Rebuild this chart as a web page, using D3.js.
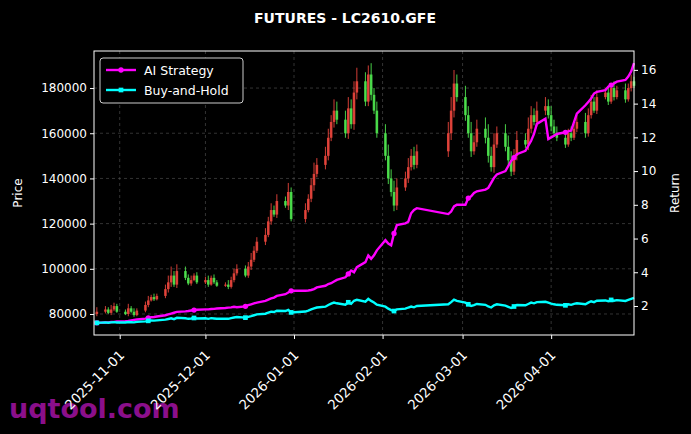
<!DOCTYPE html>
<html lang="en">
<head>
  <meta charset="UTF-8" />
  <title>FUTURES - LC2610.GFE</title>
  <script src="https://d3js.org/d3.v7.min.js"></script>
  <style>
    body { margin: 0; background: #000; font-family: "DejaVu Sans", sans-serif; }
    svg { display: block; }
  </style>
</head>
<body>
  <svg id="chart" width="691" height="434"></svg>
  <script>
    // trading calendar (weekdays, minus exchange holidays)
    const startDate = "2025-10-24";
    const endDate = "2026-04-30";
    const holidays = ["2026-01-01", "2026-01-02", "2026-02-16", "2026-02-17", "2026-02-18",
                      "2026-02-19", "2026-02-20", "2026-02-23"];
    const tickLabels = ["2025-11-01", "2025-12-01", "2026-01-01", "2026-02-01", "2026-03-01", "2026-04-01"];

    // closes, in thousands
    const closes = [
      81, 82, 80.5, 82, 83.5, 81,
      80, 82.5, 81, 79.5, 81.5, 84, 86, 87.5, 86.5, 88, 91, 94, 97, 93, 99, 96, 93.5, 95, 97, 94,
      95, 93, 96, 94, 92.5, 93, 92, 95, 98, 100, 97, 101, 104, 108, 112, 115, 121, 126, 124, 130, 128, 134, 122,
      126, 131, 137, 142, 146, 150, 158, 165, 170, 166, 160, 171, 164, 178, 183, 174, 186, 177, 170, 160,
      150, 140, 134, 128, 136, 140, 145, 150, 146, 152, 160, 170, 182, 176,
      168, 160, 152, 156, 162, 158, 150, 145, 155, 160, 154, 148, 143, 150, 157, 155, 162, 168, 165, 170, 172, 168,
      163, 160, 158, 155, 160, 158, 162, 165, 160, 168, 174, 170, 176, 178, 174, 180, 176, 179, 175, 180, 183, 181
    ];
    const firstOpen = 80;
    // wick length beyond the body, in thousands
    const wicks = [
      2, 1.5, 1, 2, 1.5, 1,
      1, 2, 1, 1.5, 1, 1.5, 2, 1, 1.5, 1, 2, 3, 4, 2, 3, 2, 1.5, 2, 1, 1.5,
      1.5, 2, 1, 1.5, 1, 1, 2, 1.5, 2, 2, 1.5, 2, 3, 2, 2, 3, 2, 3, 2, 3, 2, 4, 2,
      3, 2, 3, 5, 3, 4, 4, 3, 5, 4, 4, 5, 4, 5, 6, 4, 4, 5, 3, 4,
      4, 5, 4, 5, 4, 3, 4, 3, 4, 3, 5, 6, 6, 4,
      5, 4, 5, 3, 4, 5, 6, 4, 5, 3, 4, 5, 4, 3, 4, 3, 5, 4, 3, 4, 4, 3,
      4, 3, 3, 3, 2, 3, 2, 3, 4, 3, 3, 2, 3, 2, 3, 2, 3, 2, 3, 2, 3, 2
    ];
    const aiReturn = [
      1.0, 1.02, 1.03, 1.05, 1.06, 1.08,
      1.1, 1.12, 1.15, 1.18, 1.2, 1.25, 1.3, 1.33, 1.35, 1.38, 1.45, 1.5, 1.55, 1.6, 1.65, 1.68, 1.7, 1.73, 1.76, 1.78,
      1.8, 1.8, 1.82, 1.83, 1.85, 1.88, 1.9, 1.92, 1.95, 1.93, 1.98, 2.05, 2.1, 2.15, 2.2, 2.3, 2.38, 2.45, 2.5, 2.6, 2.7, 2.8, 2.9,
      2.9, 2.92, 2.95, 3.0, 3.1, 3.2, 3.3, 3.35, 3.45, 3.55, 3.7, 3.9, 4.1, 4.0, 4.3, 4.6, 5.0, 4.8, 5.0, 5.3,
      5.9, 5.7, 5.6, 6.3, 6.8, 6.9, 7.0, 7.5, 7.7, 7.8, 7.45, 7.6, 7.9, 8.0,
      8.0, 8.4, 8.5, 8.7, 8.8, 8.9, 9.0, 9.3, 9.6, 9.8, 10.0, 10.3, 10.6, 10.8, 11.0, 11.2, 11.5, 11.8, 12.2, 12.8, 13.1, 11.9,
      12.0, 12.1, 12.2, 12.3, 12.35, 12.4, 12.9, 13.4, 13.9, 14.1, 14.3, 14.6, 14.7, 14.8, 15.0, 15.1, 15.2, 15.3, 15.4, 15.6, 15.9, 16.4
    ];
    const bhReturn = [
      1.0, 1.03, 1.01, 1.03, 1.04, 1.02,
      1.02, 1.05, 1.04, 1.03, 1.06, 1.09, 1.12, 1.14, 1.13, 1.15, 1.19, 1.23, 1.27, 1.22, 1.30, 1.27, 1.24, 1.26, 1.29, 1.26,
      1.27, 1.24, 1.28, 1.26, 1.24, 1.25, 1.24, 1.28, 1.32, 1.35, 1.31, 1.36, 1.40, 1.45, 1.50, 1.54, 1.60, 1.66, 1.64, 1.72, 1.70, 1.77, 1.62,
      1.67, 1.73, 1.80, 1.86, 1.91, 1.96, 2.06, 2.14, 2.20, 2.16, 2.08, 2.22, 2.13, 2.31, 2.37, 2.26, 2.42, 2.30, 2.21, 2.08,
      1.96, 1.84, 1.76, 1.70, 1.80, 1.84, 1.91, 1.97, 1.92, 2.00, 2.10, 2.23, 2.38, 2.30,
      2.20, 2.10, 2.00, 2.05, 2.12, 2.07, 1.97, 1.91, 2.04, 2.10, 2.02, 1.95, 1.88, 1.97, 2.06, 2.04, 2.12, 2.20, 2.16, 2.23, 2.25, 2.20,
      2.14, 2.10, 2.07, 2.04, 2.10, 2.07, 2.13, 2.16, 2.10, 2.20, 2.28, 2.23, 2.31, 2.33, 2.28, 2.36, 2.31, 2.35, 2.30, 2.36, 2.42, 2.48
    ];

    const parse = d3.timeParse("%Y-%m-%d");
    const fmt = d3.timeFormat("%Y-%m-%d");
    const days = d3.timeDay.range(parse(startDate), d3.timeDay.offset(parse(endDate), 1))
      .filter(d => d.getDay() !== 0 && d.getDay() !== 6 && !holidays.includes(fmt(d)));

    const data = days.map((d, i) => {
      const c = closes[i] * 1000;
      const o = (i === 0 ? firstOpen : closes[i - 1]) * 1000;
      return {
        date: d, open: o, close: c,
        high: Math.max(o, c) + wicks[i] * 1000,
        low: Math.min(o, c) - wicks[i] * 500,
        ai: aiReturn[i], bh: bhReturn[i]
      };
    });

    const svg = d3.select("#chart");
    const m = { left: 94, right: 634, top: 51, bottom: 335 };

    const x = d3.scaleTime()
      .domain([parse("2025-10-23"), parse("2026-04-30")])
      .range([m.left, m.right]);
    const yP = d3.scaleLinear().domain([70700, 196400]).range([m.bottom, m.top]);
    const yR = d3.scaleLinear().domain([0.28, 17.12]).range([m.bottom, m.top]);

    const ticks = tickLabels.map(parse);

    // watermark (under the tick labels)
    svg.append("text").attr("x", 9).attr("y", 418).attr("fill", "#8b0f8b")
      .attr("font-size", 27).attr("font-weight", "bold").text("uqtool.com");

    // grid
    const grid = svg.append("g").attr("stroke", "#555").attr("stroke-dasharray", "3,3").attr("stroke-width", 0.6);
    ticks.forEach(t => grid.append("line").attr("x1", x(t)).attr("x2", x(t)).attr("y1", m.top).attr("y2", m.bottom));
    yP.ticks(6).forEach(v => grid.append("line").attr("x1", m.left).attr("x2", m.right).attr("y1", yP(v)).attr("y2", yP(v)));

    // candles
    const cw = 2.6;
    const candles = svg.append("g");
    data.forEach(d => {
      const col = d.close >= d.open ? "#e8453c" : "#4ee44e";
      candles.append("line")
        .attr("x1", x(d.date)).attr("x2", x(d.date))
        .attr("y1", yP(d.high)).attr("y2", yP(d.low))
        .attr("stroke", col).attr("stroke-width", 1).attr("opacity", 0.9);
      candles.append("rect")
        .attr("x", x(d.date) - cw / 2).attr("width", cw)
        .attr("y", yP(Math.max(d.open, d.close)))
        .attr("height", Math.max(1, Math.abs(yP(d.open) - yP(d.close))))
        .attr("fill", col).attr("opacity", 0.9);
    });

    // return lines
    const series = [
      { key: "ai", color: "#ff00ff", name: "AI Strategy", marker: "circle" },
      { key: "bh", color: "#00ffff", name: "Buy-and-Hold", marker: "square" }
    ];
    series.forEach(s => {
      svg.append("path").datum(data)
        .attr("fill", "none").attr("stroke", s.color).attr("stroke-width", 2.4)
        .attr("d", d3.line().x(d => x(d.date)).y(d => yR(d[s.key])));
      const marks = data.filter((d, i) => i % 12 === 0);
      svg.append("g").selectAll("path").data(marks).join("path")
        .attr("transform", d => `translate(${x(d.date)},${yR(d[s.key])})`)
        .attr("d", d3.symbol().type(s.marker === "circle" ? d3.symbolCircle : d3.symbolSquare).size(22))
        .attr("fill", s.color);
    });

    // frame
    svg.append("rect").attr("x", m.left).attr("y", m.top)
      .attr("width", m.right - m.left).attr("height", m.bottom - m.top)
      .attr("fill", "none").attr("stroke", "#fff").attr("stroke-width", 1);

    // axes
    const axL = svg.append("g").attr("transform", `translate(${m.left},0)`)
      .call(d3.axisLeft(yP).ticks(6).tickFormat(d3.format("d")).tickSize(4));
    const axR = svg.append("g").attr("transform", `translate(${m.right},0)`)
      .call(d3.axisRight(yR).tickValues([2, 4, 6, 8, 10, 12, 14, 16]).tickSize(4));
    const axB = svg.append("g").attr("transform", `translate(0,${m.bottom})`)
      .call(d3.axisBottom(x).tickValues(ticks).tickFormat(fmt).tickSize(4));
    [axL, axR, axB].forEach(a => {
      a.select(".domain").remove();
      a.selectAll("line").attr("stroke", "#fff");
      a.selectAll("text").attr("fill", "#fff").attr("font-size", 12)
        .attr("font-family", "DejaVu Sans, sans-serif");
    });
    axB.selectAll("text")
      .attr("text-anchor", "end")
      .attr("font-size", 13.3)
      .attr("dx", 0).attr("dy", 0)
      .attr("transform", "translate(0,16) rotate(-45)");

    // labels
    svg.append("text").attr("x", 345).attr("y", 23).attr("text-anchor", "middle")
      .attr("fill", "#fff").attr("font-size", 14).attr("font-weight", "bold").text("FUTURES - LC2610.GFE");
    svg.append("text").attr("transform", "translate(22,193) rotate(-90)").attr("text-anchor", "middle")
      .attr("fill", "#fff").attr("font-size", 12).text("Price");
    svg.append("text").attr("transform", "translate(679,193) rotate(-90)").attr("text-anchor", "middle")
      .attr("fill", "#fff").attr("font-size", 12).text("Return");

    // legend
    const lg = svg.append("g").attr("transform", "translate(100,58)");
    lg.append("rect").attr("width", 143).attr("height", 45).attr("rx", 3)
      .attr("fill", "#000").attr("stroke", "#ccc").attr("stroke-width", 1);
    series.forEach((s, i) => {
      const yy = 12 + i * 20;
      lg.append("line").attr("x1", 6).attr("x2", 36).attr("y1", yy).attr("y2", yy)
        .attr("stroke", s.color).attr("stroke-width", 2.4);
      lg.append("path").attr("transform", `translate(21,${yy})`)
        .attr("d", d3.symbol().type(s.marker === "circle" ? d3.symbolCircle : d3.symbolSquare).size(22))
        .attr("fill", s.color);
      lg.append("text").attr("x", 44).attr("y", yy + 4.5).attr("fill", "#fff")
        .attr("font-size", 12.5).text(s.name);
    });
  </script>
</body>
</html>
